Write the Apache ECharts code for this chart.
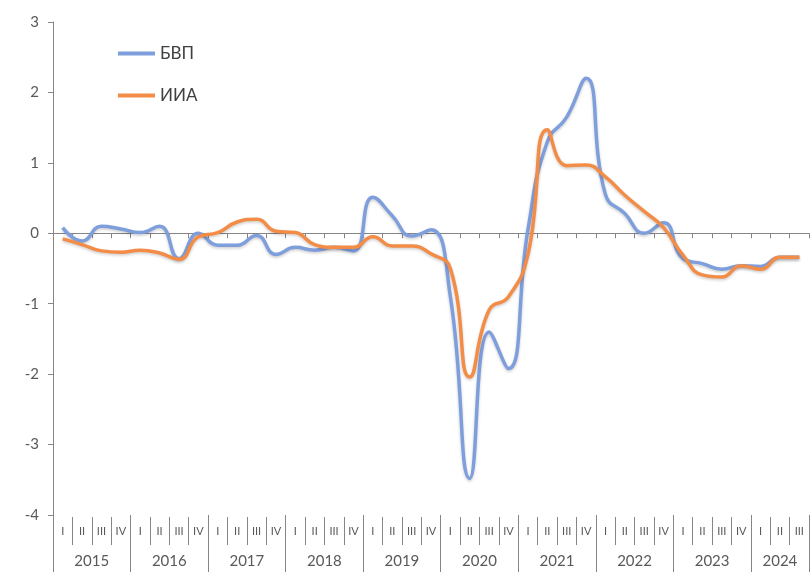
<!DOCTYPE html>
<html lang="ru">
  <head>
    <meta charset="UTF-8" />
    <meta name="viewport" content="width=device-width, initial-scale=1.0" />
    <script src="https://cdn.jsdelivr.net/npm/echarts@6/dist/echarts.min.js"></script>
    <title>БВП и ИИА</title>
    <style>
      html, body { margin: 0; padding: 0; background: #fff; }
    </style>
  </head>
  <body>
    <div id="main" style="width: 812px; height: 572px"></div>
    <script>
      // годы и число кварталов в каждом
      var years = ["2015", "2016", "2017", "2018", "2019", "2020", "2021", "2022", "2023", "2024"];
      var quartersPerYear = [4, 4, 4, 4, 4, 4, 4, 4, 4, 3];
      var quarterNames = ["I", "II", "III", "IV"];

      // БВП
      var gdp = [
        0.08, -0.11, 0.10, 0.06, 0.01, 0.10, -0.36, 0.0, -0.17, -0.17,
        -0.03, -0.30, -0.20, -0.24, -0.20, -0.25, 0.51, 0.25, -0.04, 0.05,
        -0.90, -3.48, -1.40, -1.92, 0.05, 1.30, 1.65, 2.20, 0.55, 0.28,
        0.00, 0.15, -0.36, -0.43, -0.51, -0.46, -0.47, -0.34, -0.34
      ];
      // ИИА
      var iia = [
        -0.08, -0.16, -0.25, -0.27, -0.24, -0.28, -0.37, -0.05, 0.01, 0.16,
        0.20, 0.03, 0.01, -0.16, -0.20, -0.20, -0.05, -0.18, -0.18, -0.29,
        -0.50, -2.04, -1.09, -0.90, -0.30, 1.47, 0.96, 0.97, 0.80, 0.54,
        0.31, 0.08, -0.31, -0.59, -0.62, -0.46, -0.51, -0.34, -0.34
      ];

      // кварталы по порядку
      var quarters = [];
      var yearStart = [];
      years.forEach(function (y, i) {
        yearStart.push(quarters.length);
        for (var q = 0; q < quartersPerYear[i]; q++) quarters.push(quarterNames[q]);
      });

      // ось лет: по две позиции на квартал, подпись по центру года
      var yearSlots = [];
      for (var k = 0; k <= quarters.length * 2; k++) yearSlots.push("");
      var yearTicks = {};
      years.forEach(function (y, i) {
        yearSlots[2 * yearStart[i] + quartersPerYear[i]] = y;
        yearTicks[2 * yearStart[i]] = true;
      });
      yearTicks[quarters.length * 2] = true;

      var axisColor = "#868686";
      var font = "Lato, 'Liberation Sans', sans-serif";

      var myChart = echarts.init(document.getElementById("main"));
      myChart.setOption({
        animation: false,
        textStyle: { fontFamily: font },
        grid: { left: 53, right: -1, top: 22, bottom: 57 },
        legend: {
          orient: "vertical",
          left: 113,
          top: 40,
          itemGap: 25,
          itemWidth: 37,
          itemHeight: 4,
          icon: "rect",
          textStyle: { fontSize: 17, color: "#404040", fontFamily: font },
          data: ["БВП", "ИИА"]
        },
        xAxis: [
          {
            // линия нуля с засечками
            type: "category",
            data: quarters,
            boundaryGap: true,
            axisLine: { onZero: true, lineStyle: { color: axisColor, width: 1 } },
            axisTick: { show: true, interval: 0, length: 5, lineStyle: { color: axisColor } },
            axisLabel: { show: false },
            splitLine: { show: false }
          },
          {
            type: "category",
            data: quarters,
            position: "bottom",
            offset: 2,
            boundaryGap: true,
            axisLine: { show: false, onZero: false },
            axisTick: { show: true, interval: 0, length: 28, lineStyle: { color: axisColor } },
            axisLabel: { interval: 0, margin: 9, fontSize: 11, color: "#595959" },
            splitLine: { show: false }
          },
          {
            type: "category",
            data: yearSlots,
            position: "bottom",
            offset: 0,
            boundaryGap: false,
            axisLine: { show: false, onZero: false },
            axisTick: {
              show: true,
              length: 60,
              interval: function (idx) { return !!yearTicks[idx]; },
              lineStyle: { color: axisColor }
            },
            axisLabel: { interval: 0, margin: 39, fontSize: 15, color: "#595959" },
            splitLine: { show: false }
          }
        ],
        yAxis: {
          type: "value",
          min: -4,
          max: 3,
          interval: 1,
          axisLine: { show: true, lineStyle: { color: axisColor, width: 1 } },
          axisTick: { show: true, length: 5, lineStyle: { color: axisColor } },
          axisLabel: { margin: 14, fontSize: 15, color: "#595959" },
          splitLine: { show: false }
        },
        series: [
          {
            name: "БВП",
            type: "line",
            xAxisIndex: 0,
            data: gdp,
            smooth: 0.5,
            symbol: "none",
            itemStyle: { color: "#7F9FDC" },
            lineStyle: {
              color: "#7F9FDC",
              width: 3.5,
              shadowColor: "rgba(0,0,0,0.2)",
              shadowBlur: 3,
              shadowOffsetY: 1.5
            }
          },
          {
            name: "ИИА",
            type: "line",
            xAxisIndex: 0,
            data: iia,
            smooth: 0.5,
            symbol: "none",
            itemStyle: { color: "#F28C47" },
            lineStyle: {
              color: "#F28C47",
              width: 3.5,
              shadowColor: "rgba(0,0,0,0.2)",
              shadowBlur: 3,
              shadowOffsetY: 1.5
            }
          }
        ]
      });
    </script>
  </body>
</html>
